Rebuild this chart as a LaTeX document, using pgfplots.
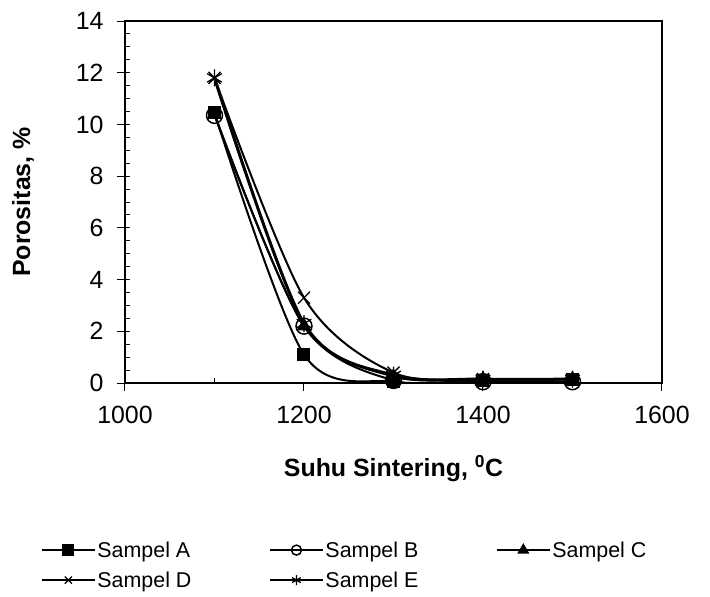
\documentclass[border=0pt]{standalone}
\usepackage{pgfplots}
\pgfplotsset{compat=1.18}
\usepackage{fontspec}
\setmainfont{Liberation Sans}
\begin{document}
\begin{tikzpicture}
\path[use as bounding box] (-125bp,-214bp) rectangle (585bp,383bp);
\begin{axis}[
  at={(0,0)}, anchor=south west,
  scale only axis, width=537bp, height=362bp,
  xmin=1000, xmax=1600, ymin=0, ymax=14,
  xtick={1000,1200,1400,1600},
  ytick={0,2,...,14},
  extra x ticks={1100,1300,1500},
  extra x tick labels={},
  extra x tick style={tick align=inside, major tick length=5bp},
  extra y ticks={0.5,1,...,13.5},
  extra y tick labels={},
  extra y tick style={tick align=inside, major tick length=5bp},
  tick align=outside, major tick length=8bp,
  xtick pos=bottom, ytick pos=left,
  tick style={black, line width=1bp},
  axis line style={black, line width=1.6bp},
  /pgf/number format/assume math mode=true,
  /pgf/number format/set thousands separator={},
  ticklabel style={font=\fontsize{25}{30}\selectfont},
  xticklabel shift=12bp,
  yticklabel shift=10bp,
  xlabel={\textbf{Suhu Sintering, \textsuperscript{0}C}},
  ylabel={\textbf{Porositas, \%}},
  every axis x label/.style={at={(axis description cs:0.5,-0.235)}, anchor=center, font=\fontsize{25}{30}\selectfont},
  every axis y label/.style={at={(axis description cs:-0.19,0.5)}, anchor=center, rotate=90, font=\fontsize{25}{30}\selectfont},
  legend columns=3,
  legend style={draw=none, fill=none, inner sep=0pt, at={(axis description cs:-0.156,-0.432)}, anchor=north west,
    font=\fontsize{21.5}{25}\selectfont, row sep=9bp,
    nodes={inner sep=2bp},
    /tikz/every even column/.append style={column sep=76bp}},
  legend cell align=left,
  legend image code/.code={\draw[mark repeat=2,mark phase=2,#1] plot coordinates {(0bp,0bp) (26bp,0bp) (52bp,0bp)};},
  legend image post style={mark size=5bp, line width=2bp},
  every axis plot/.append style={black, line width=2bp, smooth},
]
\addplot[mark=square*, mark size=5.5bp, mark options={fill=black}] coordinates {(1100,10.45) (1200,1.1) (1300,0.05) (1400,0.1) (1500,0.15)};
\addlegendentry{Sampel A}
\addplot[mark=o, mark size=8bp, mark options={fill=white, line width=1.5bp}] coordinates {(1100,10.35) (1200,2.2) (1300,0.1) (1400,0.05) (1500,0.05)};
\addlegendentry{Sampel B}
\addplot[mark=triangle*, mark size=6.5bp, mark options={fill=black}] coordinates {(1100,10.4) (1200,2.2) (1300,0.25) (1400,0.15) (1500,0.15)};
\addlegendentry{Sampel C}
\addplot[mark=x, mark size=8.5bp, mark options={line width=1.3bp}] coordinates {(1100,11.8) (1200,3.3) (1300,0.4) (1400,0.15) (1500,0.15)};
\addlegendentry{Sampel D}
\addplot[mark=asterisk, mark size=8.5bp, line width=3bp, mark options={line width=1.3bp}] coordinates {(1100,11.8) (1200,2.3) (1300,0.3) (1400,0.15) (1500,0.15)};
\addlegendentry{Sampel E}
\end{axis}
\end{tikzpicture}
\end{document}
